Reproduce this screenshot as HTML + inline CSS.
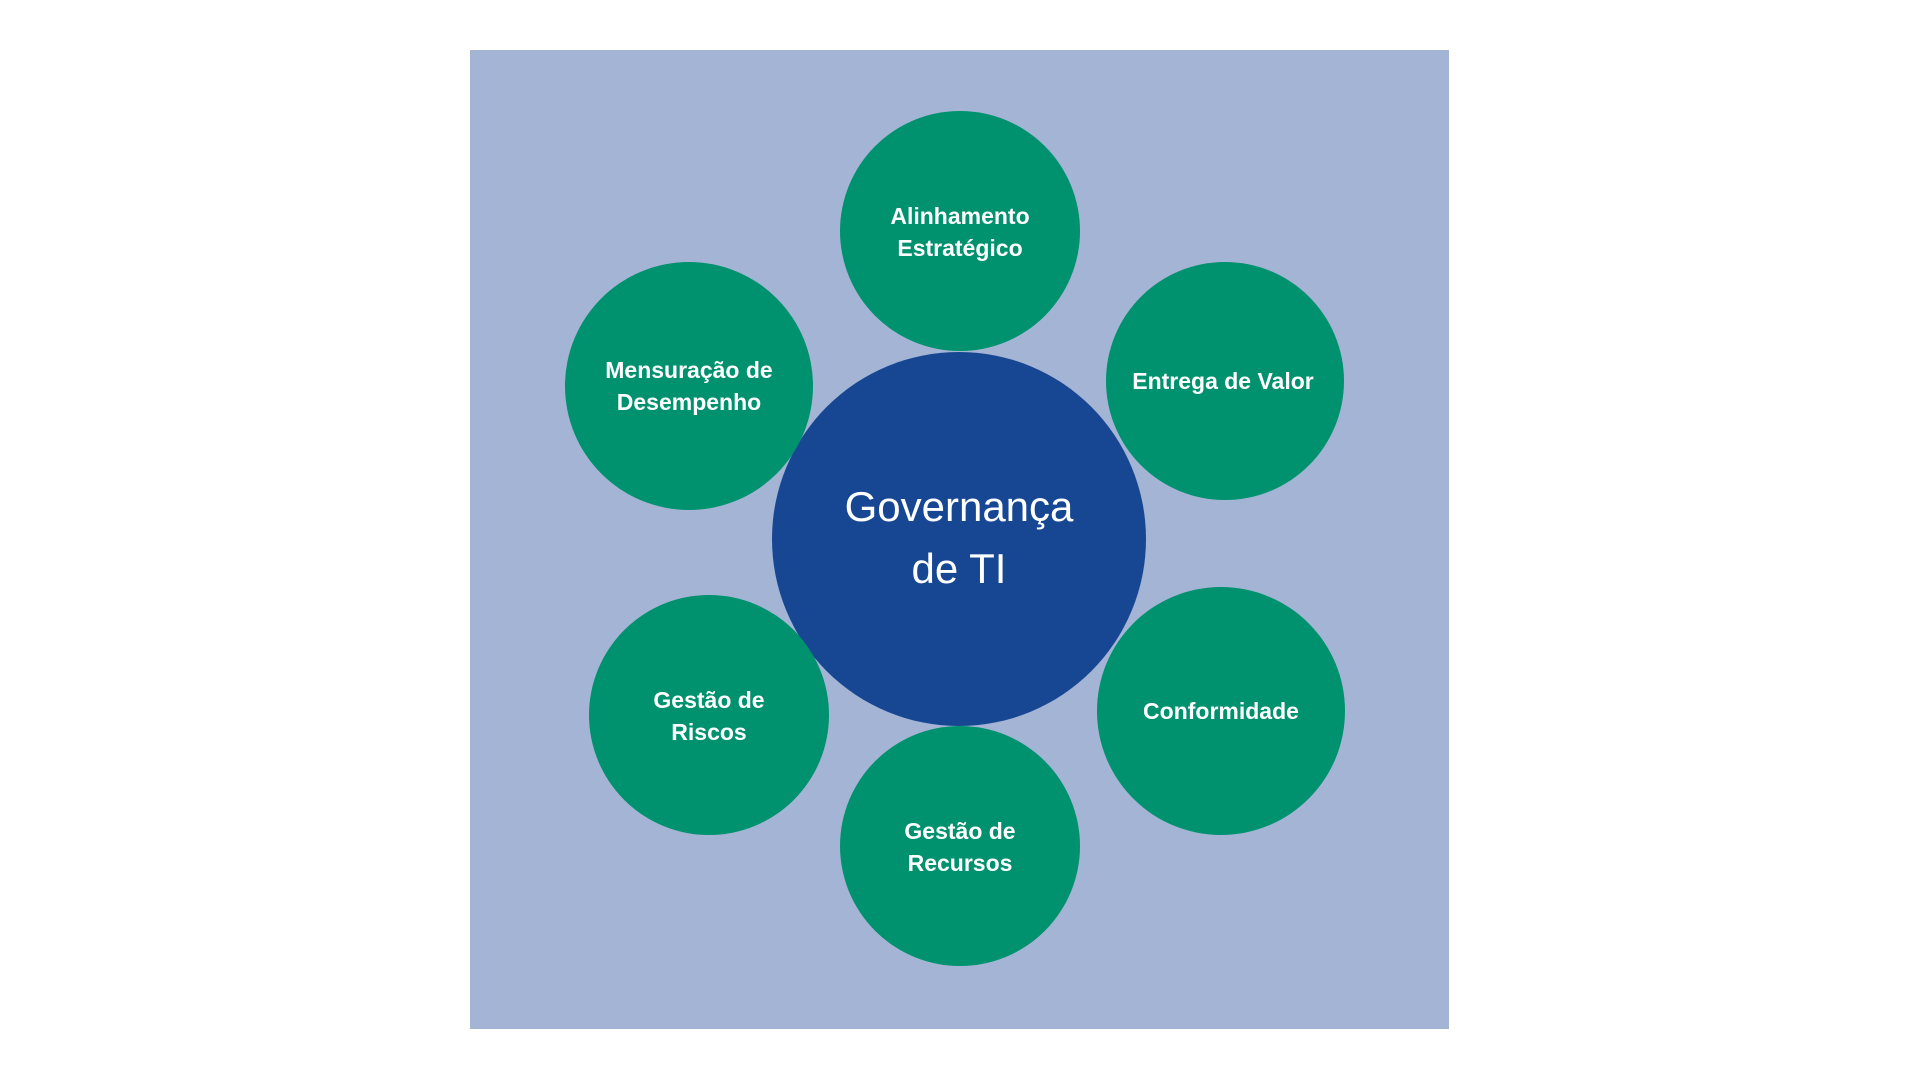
<!DOCTYPE html>
<html><head><meta charset="utf-8"><style>
html,body{margin:0;padding:0;background:#fff;width:1920px;height:1080px;overflow:hidden}
svg{display:block}
.t{font-family:"Liberation Sans",sans-serif;font-weight:bold;font-size:23px;fill:#fff}
.c{font-family:"Liberation Sans",sans-serif;font-size:42px;fill:#fff}
</style></head><body>
<svg width="1920" height="1080" viewBox="0 0 1920 1080">
<rect x="470" y="50" width="979" height="979" fill="#A3B4D4"/>
<circle cx="959" cy="539" r="187" fill="#174793"/>
<text class="c" text-anchor="middle"><tspan x="959" y="521">Governança</tspan><tspan x="959" y="583">de TI</tspan></text>
<g>
<circle cx="960" cy="231" r="120" fill="#00916E"/>
<text class="t" text-anchor="middle"><tspan x="960" y="224">Alinhamento</tspan><tspan x="960" y="256">Estratégico</tspan></text></g>
<g>
<circle cx="1225" cy="381" r="119" fill="#00916E"/>
<text class="t" text-anchor="middle" x="1223" y="389">Entrega de Valor</text></g>
<g>
<circle cx="1221" cy="711" r="124" fill="#00916E"/>
<text class="t" text-anchor="middle" x="1221" y="719">Conformidade</text></g>
<g>
<circle cx="960" cy="846" r="120" fill="#00916E"/>
<text class="t" text-anchor="middle"><tspan x="960" y="839">Gestão de</tspan><tspan x="960" y="871">Recursos</tspan></text></g>
<g>
<circle cx="709" cy="715" r="120" fill="#00916E"/>
<text class="t" text-anchor="middle"><tspan x="709" y="708">Gestão de</tspan><tspan x="709" y="740">Riscos</tspan></text></g>
<g>
<circle cx="689" cy="386" r="124" fill="#00916E"/>
<text class="t" text-anchor="middle"><tspan x="689" y="378">Mensuração de</tspan><tspan x="689" y="410">Desempenho</tspan></text></g>
</svg>
</body></html>
